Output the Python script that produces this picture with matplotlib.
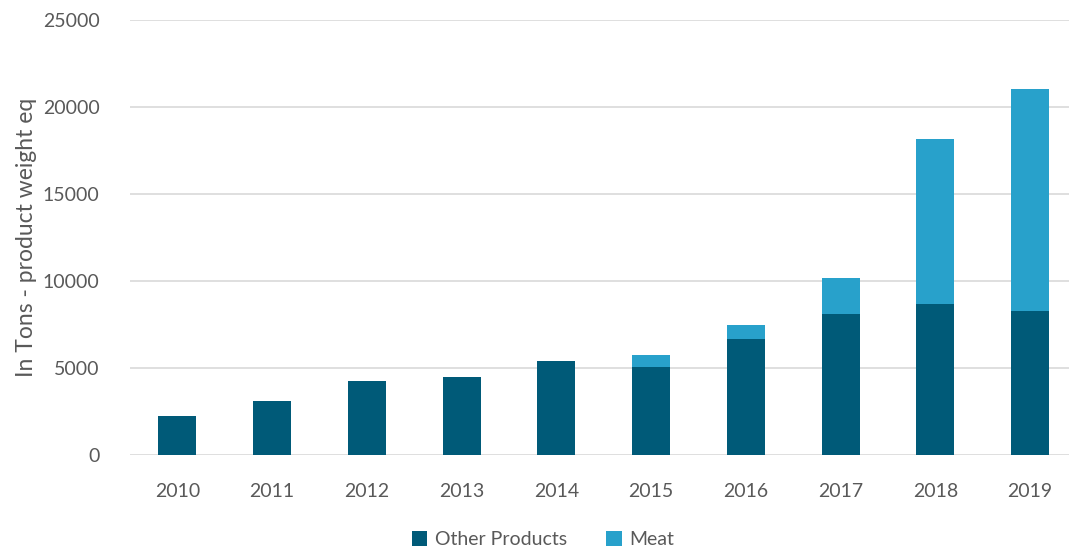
import numpy as np
import matplotlib
matplotlib.use('Agg')
import matplotlib.pyplot as plt

years = ['2010', '2011', '2012', '2013', '2014', '2015', '2016', '2017', '2018', '2019']
other_products = [2230, 3100, 4240, 4480, 5400, 5030, 6690, 8100, 8680, 8280]
meat = [0, 0, 0, 0, 0, 710, 810, 2070, 9480, 12750]

dark = '#005A78'
light = '#28A1CB'
text_col = '#595959'

plt.rcParams['font.family'] = ['Lato', 'DejaVu Sans']

fig = plt.figure(figsize=(10.69, 5.52), dpi=100)
ax = fig.add_axes([130 / 1069, 1 - 455 / 552, 939 / 1069, 435 / 552])

x = np.arange(len(years))
ax.bar(x, other_products, width=0.4, color=dark, label='Other Products', zorder=3)
ax.bar(x, meat, width=0.4, bottom=other_products, color=light, label='Meat', zorder=3)

ax.set_xlim(-0.5, 9.41)
ax.set_ylim(0, 25000)
ax.set_yticks(range(0, 25001, 5000))
ax.set_xticks(x)
ax.set_xticklabels(years)
ax.yaxis.grid(True, color='#D9D9D9', linewidth=1.2, zorder=0)
for s in ax.spines.values():
    s.set_visible(False)
ax.tick_params(length=0, labelsize=14, colors=text_col)
ax.tick_params(axis='y', pad=22)
ax.tick_params(axis='x', pad=20)
ax.set_ylabel('In Tons - product weight eq', fontsize=16.5, color=text_col, labelpad=4)

ax.legend(loc='upper center', bbox_to_anchor=(0.44, -0.135), ncol=2, frameon=False,
          fontsize=14, labelcolor=text_col, handlelength=0.8, handleheight=0.8,
          handletextpad=0.4, columnspacing=2.0)

fig.savefig('out.png', dpi=100)
